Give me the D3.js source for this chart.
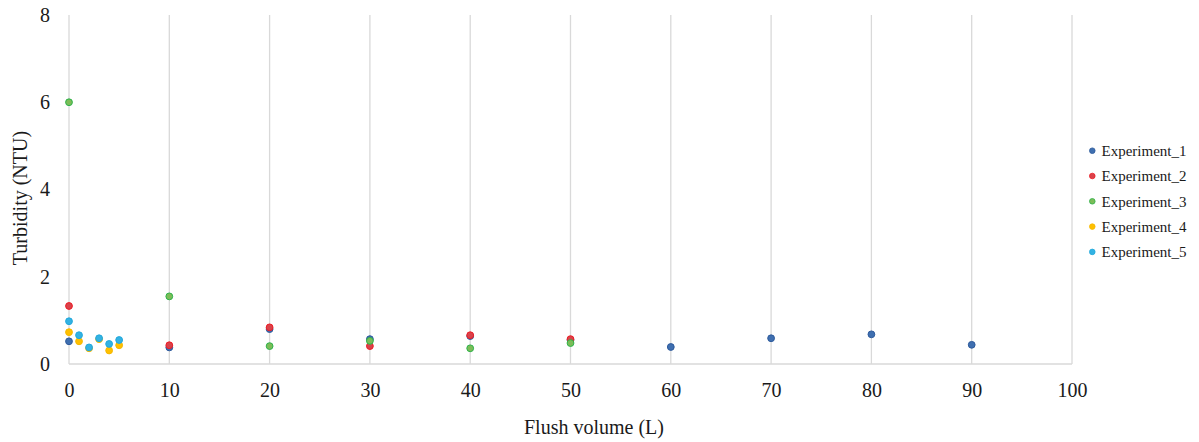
<!DOCTYPE html>
<html>
<head>
<meta charset="utf-8">
<script src="https://cdn.jsdelivr.net/npm/d3@7"></script>
<style>
  html, body { margin: 0; padding: 0; background: #fff; }
  svg { display: block; }
  text { font-family: "Liberation Serif", "Times New Roman", serif; fill: #1a1a1a; }
</style>
</head>
<body>
<svg id="chart" width="1199" height="442"></svg>
<script>
// ---- data ----
const seriesNames = ["Experiment_1", "Experiment_2", "Experiment_3", "Experiment_4", "Experiment_5"];

const exp1X = [0, 10, 20, 30, 40, 50, 60, 70, 80, 90];
const exp1Y = [0.52, 0.38, 0.80, 0.57, 0.64, 0.55, 0.39, 0.59, 0.68, 0.44];

const exp2X = [0, 10, 20, 30, 40, 50];
const exp2Y = [1.33, 0.43, 0.84, 0.41, 0.66, 0.57];

const exp3X = [0, 10, 20, 30, 40, 50];
const exp3Y = [6.0, 1.55, 0.41, 0.53, 0.36, 0.48];

const exp4X = [0, 1, 2, 3, 4, 5];
const exp4Y = [0.73, 0.52, 0.36, 0.57, 0.31, 0.43];

const exp5X = [0, 1, 2, 3, 4, 5];
const exp5Y = [0.98, 0.66, 0.38, 0.59, 0.46, 0.55];

const xTicks = [0, 10, 20, 30, 40, 50, 60, 70, 80, 90, 100];
const yTicks = [0, 2, 4, 6, 8];

const xTitle = "Flush volume (L)";
const yTitle = "Turbidity (NTU)";

// ---- styles ----
const fills   = ["#3f6fb0", "#d9434b", "#7cbc58", "#ffc000", "#33b2e3"];
const strokes = ["#2d5a9c", "#ee1c25", "#2db34a", "#f5b800", "#22a9dc"];

const series = [
  {name: seriesNames[0], x: exp1X, y: exp1Y},
  {name: seriesNames[1], x: exp2X, y: exp2Y},
  {name: seriesNames[2], x: exp3X, y: exp3Y},
  {name: seriesNames[3], x: exp4X, y: exp4Y},
  {name: seriesNames[4], x: exp5X, y: exp5Y}
];

const svg = d3.select("#chart");
const xs = d3.scaleLinear().domain([0, 100]).range([69, 1072]);
const ys = d3.scaleLinear().domain([0, 8]).range([364, 15]);

// vertical gridlines
svg.append("g").selectAll("line").data(xTicks).join("line")
  .attr("x1", d => xs(d)).attr("x2", d => xs(d))
  .attr("y1", ys(8)).attr("y2", ys(0))
  .attr("stroke", "#d9d9d9").attr("stroke-width", 1.3);

// bottom axis line
svg.append("line")
  .attr("x1", xs(0)).attr("x2", xs(100))
  .attr("y1", ys(0)).attr("y2", ys(0))
  .attr("stroke", "#d9d9d9").attr("stroke-width", 1.6);

// x axis labels
const xAxis = svg.append("g").attr("transform", `translate(0,${ys(0)})`)
  .call(d3.axisBottom(xs).tickValues(xTicks).tickSize(0).tickPadding(19).tickFormat(d3.format("d")));
xAxis.select(".domain").remove();
xAxis.selectAll("text").style("font-family", "'Liberation Serif', serif").style("font-size", "20px").attr("fill", "#1a1a1a");

// y axis labels
const yAxis = svg.append("g").attr("transform", `translate(${xs(0)},0)`)
  .call(d3.axisLeft(ys).tickValues(yTicks).tickSize(0).tickPadding(19).tickFormat(d3.format("d")));
yAxis.select(".domain").remove();
yAxis.selectAll("text").style("font-family", "'Liberation Serif', serif").style("font-size", "20px").attr("fill", "#1a1a1a");

// axis titles
svg.append("text")
  .attr("x", 594).attr("y", 434)
  .attr("text-anchor", "middle")
  .style("font-size", "20px")
  .text(xTitle);

svg.append("text")
  .attr("transform", "translate(27,198) rotate(-90)")
  .attr("text-anchor", "middle")
  .style("font-size", "20px")
  .text(yTitle);

// points
series.forEach((s, i) => {
  svg.append("g").selectAll("circle").data(s.x.map((xv, j) => [xv, s.y[j]])).join("circle")
    .attr("cx", d => xs(d[0]))
    .attr("cy", d => ys(d[1]))
    .attr("r", 3.4)
    .attr("fill", fills[i])
    .attr("stroke", strokes[i])
    .attr("stroke-width", 1);
});

// legend
const lg = svg.append("g");
series.forEach((s, i) => {
  const yy = 150.7 + i * 25.3;
  lg.append("circle").attr("cx", 1092.3).attr("cy", yy).attr("r", 2.8)
    .attr("fill", fills[i]).attr("stroke", strokes[i]).attr("stroke-width", 0.8);
  lg.append("text").attr("x", 1101.5).attr("y", yy).attr("dy", "0.35em")
    .style("font-size", "15px").text(s.name);
});
</script>
</body>
</html>
